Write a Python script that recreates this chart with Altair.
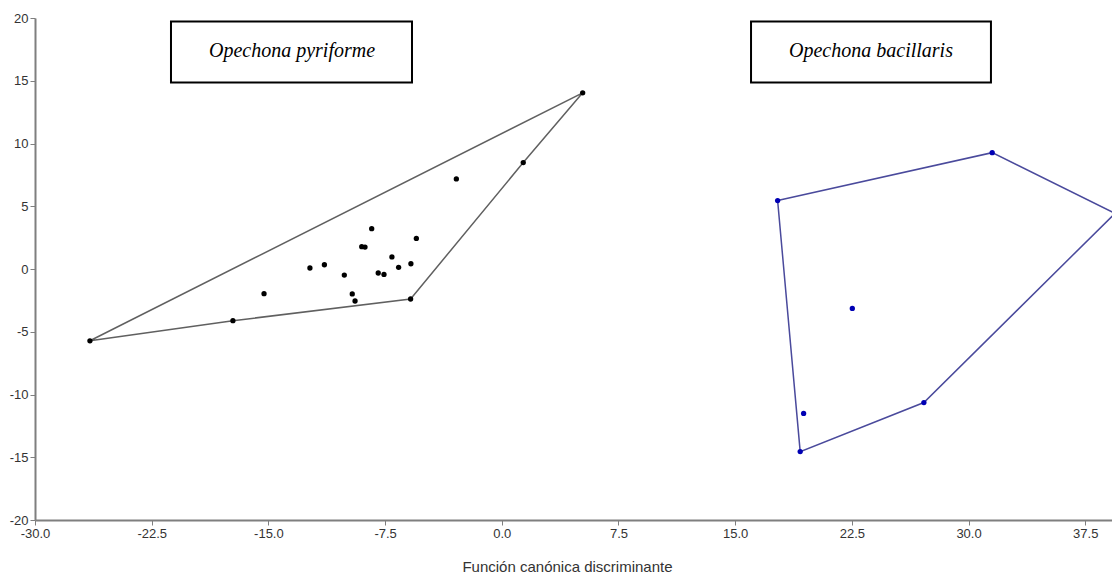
import altair as alt
import pandas as pd

# Opechona pyriforme scores
pyr_x = [-26.47, -17.28, -15.28, -12.33, -11.40, -10.12, -9.61, -9.43, -9.00, -8.79,
         -8.36, -7.94, -7.57, -7.06, -6.63, -5.84, -5.49, -5.86, -2.92, 1.38, 5.20]
pyr_y = [-5.72, -4.12, -1.97, 0.08, 0.34, -0.48, -1.99, -2.55, 1.78, 1.75,
         3.21, -0.32, -0.43, 0.96, 0.13, 0.42, 2.44, -2.39, 7.18, 8.48, 14.04]
pyr_hull = [0, 20, 19, 17, 1, 0]

# Opechona bacillaris scores
bac_x = [17.73, 31.52, 39.41, 27.13, 19.18, 19.40, 22.53]
bac_y = [5.45, 9.27, 4.43, -10.64, -14.55, -11.51, -3.14]
bac_hull = [0, 1, 2, 3, 4, 0]

labels = ["Opechona pyriforme", "Opechona bacillaris"]
label_x = [-13.48, 23.73]
label_y = [17.35, 17.35]
box_x1 = [-21.26, 16.02]
box_x2 = [-5.77, 31.44]
box_y1 = [14.86, 14.86]
box_y2 = [19.72, 19.72]

x_ticks = [-30.0, -22.5, -15.0, -7.5, 0.0, 7.5, 15.0, 22.5, 30.0, 37.5]
y_ticks = [-20, -15, -10, -5, 0, 5, 10, 15, 20]

pts = pd.DataFrame({
    "x": pyr_x + bac_x,
    "y": pyr_y + bac_y,
    "g": ["pyr"] * len(pyr_x) + ["bac"] * len(bac_x),
})
hull = pd.DataFrame({
    "x": [pyr_x[i] for i in pyr_hull] + [bac_x[i] for i in bac_hull],
    "y": [pyr_y[i] for i in pyr_hull] + [bac_y[i] for i in bac_hull],
    "g": ["pyr"] * len(pyr_hull) + ["bac"] * len(bac_hull),
    "o": list(range(len(pyr_hull))) + list(range(len(bac_hull))),
})
boxes = pd.DataFrame({"x1": box_x1, "x2": box_x2, "y1": box_y1, "y2": box_y2,
                      "lx": label_x, "ly": label_y, "t": labels})

xs = alt.Scale(domain=[-30, 39.22], nice=False, zero=False)
ys = alt.Scale(domain=[-20, 20], nice=False, zero=False)

xax = alt.Axis(values=x_ticks,
               labelExpr="datum.value < 0 ? '-' + format(-datum.value, '.1f') : format(datum.value, '.1f')",
               title="Función canónica discriminante",
               grid=False, domainColor="#7f7f7f", domainWidth=2, tickColor="#7f7f7f",
               tickSize=5, labelFont="Liberation Sans", labelFontSize=13, labelColor="#333333",
               labelPadding=2, titleFont="Liberation Sans", titleFontSize=15,
               titleFontWeight="normal", titleColor="#333333", titlePadding=19,
               titleX=532, labelFlush=False, labelOverlap=False)
yax = alt.Axis(values=y_ticks,
               labelExpr="datum.value < 0 ? '-' + format(-datum.value, 'd') : format(datum.value, 'd')",
               title=None, grid=False,
               domainColor="#7f7f7f", domainWidth=2, tickColor="#7f7f7f", tickSize=5,
               labelFont="Liberation Sans", labelFontSize=13, labelColor="#333333",
               labelPadding=2, labelFlush=False, labelOverlap=False)

cscale = alt.Scale(domain=["pyr", "bac"], range=["#606060", "#4a4a9c"])
pscale = alt.Scale(domain=["pyr", "bac"], range=["#000000", "#0000b4"])

lines = alt.Chart(hull).mark_line(strokeWidth=1.5, clip=True).encode(
    x=alt.X("x:Q", scale=xs, axis=xax),
    y=alt.Y("y:Q", scale=ys, axis=yax),
    detail="g:N",
    order="o:Q",
    color=alt.Color("g:N", scale=cscale, legend=None),
)
dots = alt.Chart(pts).mark_circle(size=28, opacity=1, clip=True).encode(
    x=alt.X("x:Q", scale=xs),
    y=alt.Y("y:Q", scale=ys),
    color=alt.Color("g:N", scale=pscale, legend=None),
)
rects = alt.Chart(boxes).mark_rect(fill="white", stroke="black", strokeWidth=2).encode(
    x=alt.X("x1:Q", scale=xs), x2="x2:Q",
    y=alt.Y("y1:Q", scale=ys), y2="y2:Q",
)
texts = alt.Chart(boxes).mark_text(font="Liberation Serif", fontStyle="italic",
                                   fontSize=20, color="black").encode(
    x=alt.X("lx:Q", scale=xs), y=alt.Y("ly:Q", scale=ys), text="t:N",
)

chart = alt.layer(lines, dots, rects, texts).resolve_scale(color="independent").properties(
    width=1077, height=502,
    background="white",
    autosize=alt.AutoSizeParams(type="none"),
    padding={"left": 35, "top": 18, "right": 0, "bottom": 55},
).configure_view(strokeWidth=0, stroke="transparent")

chart.save("out.html", embed_options={"renderer": "svg", "actions": False})
